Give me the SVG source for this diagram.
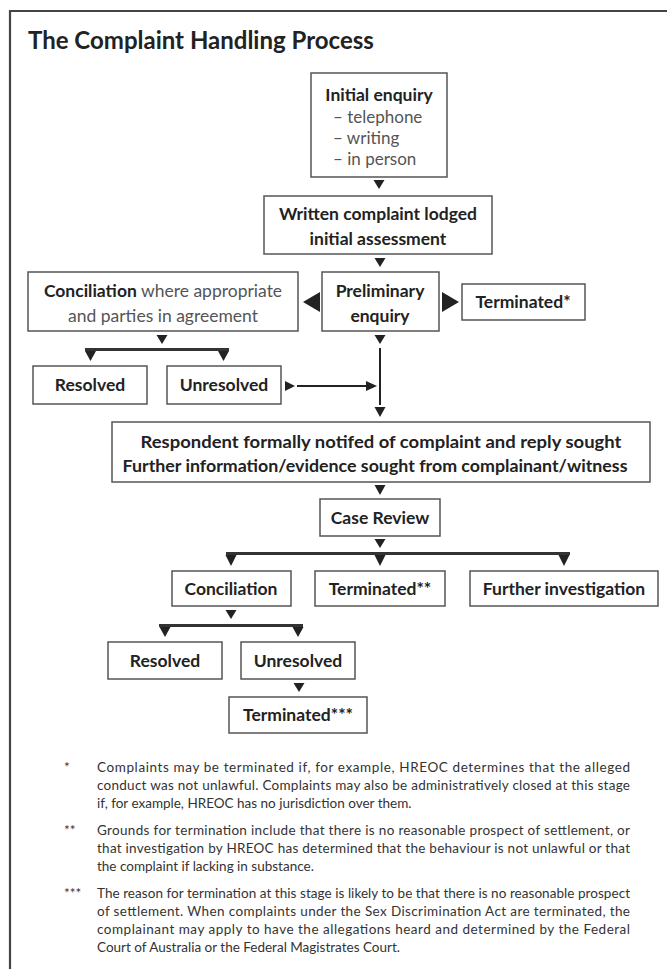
<svg xmlns="http://www.w3.org/2000/svg" width="667" height="969" viewBox="0 0 667 969">
<style>
.box{fill:#fff;stroke:#555;stroke-width:1.5}
text{font-family:Lato,"Open Sans","DejaVu Sans",sans-serif;fill:#222}
.b{font-weight:bold;font-size:17.5px;text-anchor:middle}
.r{font-size:17px;fill:#555}
.fn{font-size:13.5px;fill:#333}
.bar{stroke:#333;stroke-width:3;fill:none}
.ln{stroke:#222;stroke-width:2;fill:none}
.tri{fill:#222}
</style>
<rect x="0" y="0" width="667" height="969" fill="#fff"/>
<path d="M10 980 V11 H680" fill="none" stroke="#444" stroke-width="2.2"/>
<text x="28" y="49" style="font-size:24px;font-weight:bold">The Complaint Handling Process</text>

<g id="initial">
<rect class="box" x="311" y="73" width="136" height="104"/>
<text class="b" x="379" y="101">Initial enquiry</text>
<text class="r" x="333" y="123">– telephone</text>
<text class="r" x="333" y="144">– writing</text>
<text class="r" x="333" y="165">– in person</text>
</g>
<g id="written">
<rect class="box" x="264" y="196" width="228" height="58"/>
<text class="b" x="378" y="220">Written complaint lodged</text>
<text class="b" x="378" y="245">initial assessment</text>
</g>
<g id="conciliation1">
<rect class="box" x="28" y="272" width="270" height="59"/>
<text x="163" y="297" text-anchor="middle" style="font-size:17.5px"><tspan style="font-weight:bold;fill:#222">Conciliation</tspan><tspan fill="#555"> where appropriate</tspan></text>
<text class="r" x="163" y="322" text-anchor="middle" style="font-size:17.5px">and parties in agreement</text>
</g>
<g id="preliminary">
<rect class="box" x="322" y="272" width="117" height="59"/>
<text class="b" x="380" y="297">Preliminary</text>
<text class="b" x="380" y="322">enquiry</text>
</g>
<g id="terminated1">
<rect class="box" x="462" y="284" width="123" height="36"/>
<text class="b" x="523" y="308">Terminated*</text>
</g>
<g id="resolved1">
<rect class="box" x="33" y="366" width="114" height="38"/>
<text class="b" x="90" y="391">Resolved</text>
</g>
<g id="unresolved1">
<rect class="box" x="167" y="366" width="114" height="38"/>
<text class="b" x="224" y="391">Unresolved</text>
</g>
<g id="respondent">
<rect class="box" x="112" y="422" width="538" height="60"/>
<text class="b" x="381" y="448" textLength="481" lengthAdjust="spacingAndGlyphs">Respondent formally notifed of complaint and reply sought</text>
<text class="b" x="375" y="472" textLength="505" lengthAdjust="spacingAndGlyphs">Further information/evidence sought from complainant/witness</text>
</g>
<g id="casereview">
<rect class="box" x="320" y="499" width="120" height="37"/>
<text class="b" x="380" y="524">Case Review</text>
</g>
<g id="conciliation2">
<rect class="box" x="172" y="571" width="119" height="35"/>
<text class="b" x="231" y="595">Conciliation</text>
</g>
<g id="terminated2">
<rect class="box" x="315" y="571" width="130" height="35"/>
<text class="b" x="380" y="595">Terminated**</text>
</g>
<g id="further">
<rect class="box" x="470" y="571" width="188" height="35"/>
<text class="b" x="564" y="595">Further investigation</text>
</g>
<g id="resolved2">
<rect class="box" x="108" y="642" width="114" height="37"/>
<text class="b" x="165" y="667">Resolved</text>
</g>
<g id="unresolved2">
<rect class="box" x="241" y="642" width="114" height="37"/>
<text class="b" x="298" y="667">Unresolved</text>
</g>
<g id="terminated3">
<rect class="box" x="229" y="697" width="138" height="36"/>
<text class="b" x="298" y="721">Terminated***</text>
</g>

<g id="connectors">
<path class="tri" d="M373.5 180 H384.5 L379 189 Z"/>
<path class="tri" d="M374.5 258 H385.5 L380 267 Z"/>
<path class="tri" d="M320 292 V312 L303 302 Z"/>
<path class="tri" d="M442 292 V312 L459 302 Z"/>
<path class="tri" d="M156.5 335 H167.5 L162 344 Z"/>
<path class="bar" d="M85 349.5 H229"/>
<path class="tri" d="M85 351 H96 L90.5 361 Z"/>
<path class="tri" d="M218 351 H229 L223.5 361 Z"/>
<path class="tri" d="M374.5 335 H385.5 L380 344 Z"/>
<path class="ln" d="M380 348 V405"/>
<path class="tri" d="M374.5 407 H385.5 L380 417 Z"/>
<path class="tri" d="M285 381 V391 L295 386 Z"/>
<path class="ln" d="M297 386 H366"/>
<path class="tri" d="M366 381 V391 L377 386 Z"/>
<path class="tri" d="M374.5 485 H385.5 L380 495 Z"/>
<path class="tri" d="M374.5 539 H385.5 L380 548 Z"/>
<path class="bar" d="M226 553.5 H570"/>
<path class="tri" d="M225.5 555 H236.5 L231 566 Z"/>
<path class="tri" d="M374.5 555 H385.5 L380 566 Z"/>
<path class="tri" d="M558.5 555 H569.5 L564 566 Z"/>
<path class="tri" d="M225.5 610 H236.5 L231 619 Z"/>
<path class="bar" d="M159 625.5 H303"/>
<path class="tri" d="M159.5 627 H170.5 L165 637 Z"/>
<path class="tri" d="M292.5 627 H303.5 L298 637 Z"/>
<path class="tri" d="M293.5 683 H304.5 L299 692 Z"/>
</g>

<g id="footnotes">
<text class="fn" x="64" y="772">*</text>
<text class="fn" x="97" y="772" textLength="533" lengthAdjust="spacing">Complaints may be terminated if, for example, HREOC determines that the alleged</text>
<text class="fn" x="97" y="790" textLength="533" lengthAdjust="spacing">conduct was not unlawful. Complaints may also be administratively closed at this stage</text>
<text class="fn" x="97" y="808">if, for example, HREOC has no jurisdiction over them.</text>
<text class="fn" x="64" y="835">**</text>
<text class="fn" x="97" y="835" textLength="533" lengthAdjust="spacing">Grounds for termination include that there is no reasonable prospect of settlement, or</text>
<text class="fn" x="97" y="853" textLength="533" lengthAdjust="spacing">that investigation by HREOC has determined that the behaviour is not unlawful or that</text>
<text class="fn" x="97" y="871">the complaint if lacking in substance.</text>
<text class="fn" x="64" y="898">***</text>
<text class="fn" x="97" y="898" textLength="533" lengthAdjust="spacing">The reason for termination at this stage is likely to be that there is no reasonable prospect</text>
<text class="fn" x="97" y="916" textLength="533" lengthAdjust="spacing">of settlement. When complaints under the Sex Discrimination Act are terminated, the</text>
<text class="fn" x="97" y="934" textLength="533" lengthAdjust="spacing">complainant may apply to have the allegations heard and determined by the Federal</text>
<text class="fn" x="97" y="952">Court of Australia or the Federal Magistrates Court.</text>
</g>
</svg>
